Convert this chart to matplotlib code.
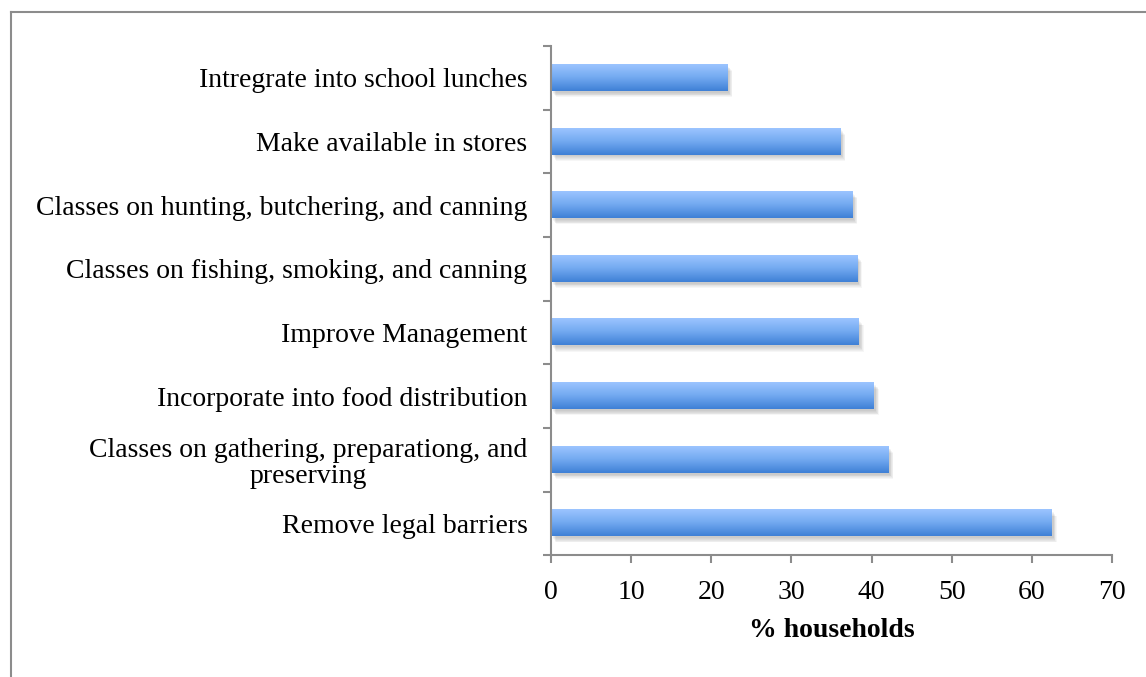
import numpy as np
import matplotlib.pyplot as plt
import matplotlib.transforms as mtransforms
from matplotlib.colors import LinearSegmentedColormap
from matplotlib.lines import Line2D

# bottom -> top, as in the chart
categories = ["Remove legal barriers",
              "Classes on gathering, preparationg, and\npreserving",
              "Incorporate into food distribution",
              "Improve Management",
              "Classes on fishing, smoking, and canning",
              "Classes on hunting, butchering, and canning",
              "Make available in stores",
              "Intregrate into school lunches"]
values = [62.5, 42.1, 40.3, 38.4, 38.2, 37.6, 36.1, 22.0]
xticks = [0, 10, 20, 30, 40, 50, 60, 70]

plt.rcParams['font.family'] = ['Liberation Serif', 'DejaVu Serif']

fig = plt.figure(figsize=(11.46, 6.77), dpi=100)
ax = fig.add_axes([0.4808, 0.180, 0.4895, 0.752])

ypos = np.arange(len(categories))
bh = 0.41

# soft shadow
for k in range(1, 7):
    tr = mtransforms.offset_copy(ax.transData, fig=fig, x=0.8 + 0.45 * k, y=-0.8 - 0.6 * k, units='points')
    ax.barh(ypos, values, height=bh, color='black', alpha=0.035, transform=tr, zorder=1, linewidth=0)

cmap = LinearSegmentedColormap.from_list('barblue', ['#3f80d6', '#72a9f0', '#9cc4ff'])
grad = np.linspace(0, 1, 64).reshape(-1, 1)
for y, v in zip(ypos, values):
    ax.imshow(grad, cmap=cmap, origin='lower', aspect='auto',
              extent=[0, v, y - bh / 2, y + bh / 2], zorder=2, interpolation='bilinear')

ax.set_xlim(0, 70)
ax.set_ylim(-0.5, len(categories) - 0.5)
ax.set_xticks(xticks)
ax.set_yticks(ypos)
ax.set_yticklabels(categories, fontsize=20, ha='right', multialignment='center', linespacing=1.05)
ax.set_yticks(np.arange(-0.5, len(categories), 1.0), minor=True)
ax.tick_params(axis='y', which='major', length=0, pad=17, labelsize=20)
ax.tick_params(axis='y', which='minor', length=6, width=1.5, color='#8c8c8c', direction='out')
ax.tick_params(axis='x', which='major', length=6, width=1.5, color='#8c8c8c', direction='out', pad=12, labelsize=20)

for s in ['top', 'right']:
    ax.spines[s].set_visible(False)
for s in ['left', 'bottom']:
    ax.spines[s].set_color('#8c8c8c')
    ax.spines[s].set_linewidth(1.5)

ax.set_xlabel('% households', fontsize=20, fontweight='bold', labelpad=9)

# outer frame
fig.add_artist(Line2D([11 / 1146, 11 / 1146], [0, 1 - 12 / 677], color='#8c8c8c', lw=1.5))
fig.add_artist(Line2D([11 / 1146, 1], [1 - 12 / 677, 1 - 12 / 677], color='#8c8c8c', lw=1.5))

fig.savefig('out.png', dpi=100)
